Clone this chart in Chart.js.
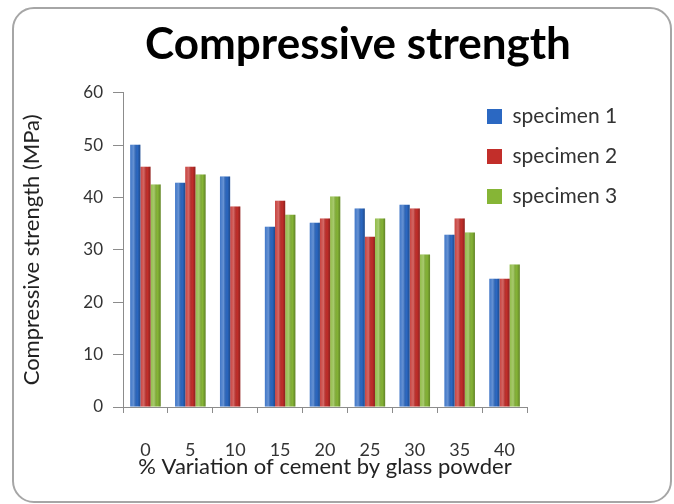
<!DOCTYPE html>
<html>
<head>
<meta charset="utf-8">
<script src="https://cdn.jsdelivr.net/npm/chart.js@4/dist/chart.umd.min.js"></script>
<style>
    body { margin: 0; background: #ffffff; }
    #wrap { position: relative; width: 674px; height: 504px; }
    #frame {
        position: absolute;
        left: 12px;
        top: 7px;
        width: 660px;
        height: 496px;
        box-sizing: border-box;
        border: 2px solid #a6a6a6;
        border-radius: 22px;
        pointer-events: none;
    }
    canvas { position: absolute; left: 0; top: 0; }
</style>
</head>
<body>
<div id="wrap">
    <canvas id="chart" width="674" height="504"></canvas>
    <div id="frame"></div>
</div>
<script>
const categories = ['0', '5', '10', '15', '20', '25', '30', '35', '40'];
const specimen1 = [50.1, 42.8, 44.0, 34.4, 35.2, 37.9, 38.6, 32.9, 24.5];
const specimen2 = [45.9, 45.9, 38.3, 39.4, 36.0, 32.5, 37.9, 36.0, 24.5];
const specimen3 = [42.5, 44.4, null, 36.7, 40.2, 36.0, 29.1, 33.3, 27.2];
const seriesNames = ['specimen 1', 'specimen 2', 'specimen 3'];
const yTicks = [0, 10, 20, 30, 40, 50, 60];

const fontFamily = 'Lato, "Open Sans", sans-serif';

// glossy shading over each bar, like the old office charts
const barShading = {
    id: 'barShading',
    afterDatasetsDraw(chart) {
        const ctx = chart.ctx;
        chart.data.datasets.forEach((ds, i) => {
            const meta = chart.getDatasetMeta(i);
            meta.data.forEach((bar, j) => {
                if (ds.data[j] === null) return;
                const p = bar.getProps(['x', 'y', 'base', 'width'], true);
                const left = p.x - p.width / 2;
                const grad = ctx.createLinearGradient(left, 0, left + p.width, 0);
                grad.addColorStop(0, 'rgba(255,255,255,0.10)');
                grad.addColorStop(0.35, 'rgba(255,255,255,0.28)');
                grad.addColorStop(0.7, 'rgba(0,0,0,0)');
                grad.addColorStop(1, 'rgba(0,0,0,0.28)');
                ctx.save();
                ctx.fillStyle = grad;
                ctx.fillRect(left, p.y, p.width, p.base - p.y);
                ctx.restore();
            });
        });
    }
};

// move title centre and legend to where the reference has them
const placeBoxes = {
    id: 'placeBoxes',
    afterLayout(chart) {
        if (chart.titleBlock) {
            chart.titleBlock.left = 42;
            chart.titleBlock.right = 674;
            chart.titleBlock.width = 632;
        }
        const legend = chart.legend;
        if (legend) {
            const w = legend.width, h = legend.height;
            legend.left = 468;
            legend.top = 87;
            legend.right = legend.left + w;
            legend.bottom = legend.top + h;
        }
    }
};

const colors = ['#2b68c2', '#c22e2a', '#86b536'];
const borders = ['#1f4f96', '#8f2220', '#64882a'];

new Chart(document.getElementById('chart').getContext('2d'), {
    type: 'bar',
    data: {
        labels: categories,
        datasets: [specimen1, specimen2, specimen3].map((values, i) => ({
            label: seriesNames[i],
            data: values,
            backgroundColor: colors[i],
            borderColor: borders[i],
            borderWidth: 0,
            categoryPercentage: 0.68,
            barPercentage: 1.0
        }))
    },
    options: {
        responsive: false,
        animation: false,
        layout: {
            padding: { left: 0, right: 147, top: 0, bottom: 0 }
        },
        plugins: {
            title: {
                display: true,
                text: 'Compressive strength',
                color: '#000000',
                font: { family: fontFamily, size: 44, weight: 'bold' },
                padding: { top: 18, bottom: 22 }
            },
            legend: {
                position: 'chartArea',
                align: 'start',
                labels: {
                    boxWidth: 15,
                    boxHeight: 15,
                    padding: 19,
                    color: '#333333',
                    font: { family: fontFamily, size: 21 }
                }
            },
            tooltip: { enabled: false }
        },
        scales: {
            x: {
                afterFit: scale => { scale.height = 97; },
                grid: {
                    drawOnChartArea: false,
                    drawTicks: true,
                    tickLength: 6,
                    color: '#8c8c8c'
                },
                border: { color: '#8c8c8c', width: 1 },
                ticks: {
                    color: '#333333',
                    padding: 26,
                    font: { family: fontFamily, size: 18 }
                },
                title: {
                    display: true,
                    text: '% Variation of cement by glass powder',
                    color: '#222222',
                    font: { family: fontFamily, size: 22 },
                    padding: { top: 0, bottom: 24 }
                }
            },
            y: {
                min: 0,
                max: 60,
                afterFit: scale => { scale.width = 123; },
                afterBuildTicks: scale => {
                    scale.ticks = yTicks.map(v => ({ value: v }));
                },
                grid: {
                    drawOnChartArea: false,
                    drawTicks: true,
                    tickLength: 10,
                    color: '#8c8c8c'
                },
                border: { color: '#8c8c8c', width: 1 },
                ticks: {
                    color: '#333333',
                    padding: 10,
                    font: { family: fontFamily, size: 17 }
                },
                title: {
                    display: true,
                    text: 'Compressive strength (MPa)',
                    color: '#222222',
                    font: { family: fontFamily, size: 22 },
                    padding: { top: 19, bottom: 0 }
                }
            }
        }
    },
    plugins: [barShading, placeBoxes]
});
</script>
</body>
</html>
